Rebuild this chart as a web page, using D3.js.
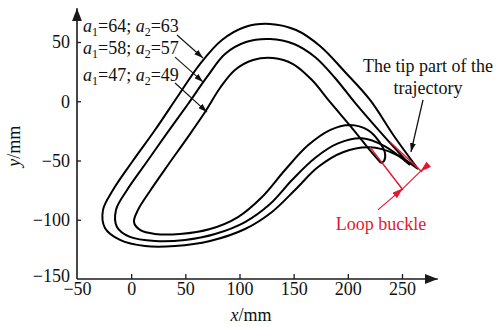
<!DOCTYPE html>
<html><head><meta charset="utf-8">
<script src="https://cdn.jsdelivr.net/npm/d3@7"></script>
<style>
body{margin:0;background:#fff}
svg{display:block}
text{font-family:"Liberation Serif","Times New Roman",serif;fill:#111}
</style>
</head><body>
<svg id="chart" width="497" height="326"></svg>
<script>
// ---------- data ----------
const xTickValues = [-50, 0, 50, 100, 150, 200, 250];
const yTickValues = [-150, -100, -50, 0, 50];
const seriesNames = [["64", "63"], ["58", "57"], ["47", "49"]];

// a1=64; a2=63 (outer trajectory)
const traj64X = [264.8, 242.6, 220.5, 197.4, 174.3, 152.2, 128.2, 105.1, 83.8, 63.5, 43.2, 22.0, 0.8, -16.8, -26.0, -24.2, -10.3, 12.8, 40.5, 72.8, 105.1, 130.0, 151.2, 172.5, 195.5, 220.5, 243.5, 264.8];
const traj64Y = [-57.2, -29.3, 1.1, 24.7, 46.6, 60.1, 65.2, 62.7, 51.7, 31.4, 4.4, -24.3, -51.3, -74.9, -91.7, -106.9, -117.0, -122.2, -122.2, -117.9, -107.8, -93.4, -74.9, -55.5, -43.0, -38.9, -44.5, -57.2];

// a1=58; a2=57 (middle trajectory)
const traj58X = [257.4, 231.5, 207.5, 188.2, 169.7, 150.3, 128.2, 106.0, 86.6, 70.0, 52.5, 33.1, 13.7, -3.8, -14.0, -13.1, -1.1, 22.0, 49.7, 77.4, 105.1, 128.2, 148.5, 169.7, 190.9, 213.1, 234.3, 257.4];
const traj58Y = [-53.8, -27.6, -2.3, 19.6, 37.3, 48.3, 52.5, 50.0, 39.9, 20.5, -2.3, -26.9, -52.1, -74.9, -91.7, -106.1, -114.5, -117.9, -117.0, -112.0, -101.9, -86.7, -66.5, -47.9, -35.6, -31.3, -38.1, -53.8];

// a1=47; a2=49 (inner trajectory, with loop buckle)
const traj47X = [230.6, 220.5, 203.9, 183.5, 166.9, 149.4, 130.9, 112.5, 95.8, 82.0, 68.2, 51.5, 34.0, 17.4, 6.3, 2.6, 8.2, 22.0, 45.1, 72.8, 98.6, 120.8, 142.0, 163.2, 183.5, 202.0, 218.6, 228.8, 234.3, 233.4, 230.6];
const traj47Y = [-52.1, -41.4, -22.6, -0.6, 17.9, 31.4, 36.5, 34.8, 26.4, 11.2, -9.1, -31.3, -53.8, -75.7, -91.7, -101.9, -108.6, -112.0, -112.0, -107.8, -97.7, -80.8, -58.0, -37.2, -24.3, -20.0, -24.3, -33.8, -43.7, -50.4, -52.1];

// ---------- layout ----------
const svg = d3.select("#chart");
const x = d3.scaleLinear().domain([-50, 250]).range([77, 402]);
const y = d3.scaleLinear().domain([-150, 50]).range([279, 42]);
const FS = 18;
const RED = "#e3172f";
const AX = "#1a1a1a";

const defs = svg.append("defs");
function marker(id, color, w, l) {
  defs.append("marker").attr("id", id).attr("viewBox", `0 ${-w} ${l} ${2*w}`)
    .attr("refX", l).attr("refY", 0).attr("markerWidth", l).attr("markerHeight", 2*w)
    .attr("markerUnits", "userSpaceOnUse").attr("orient", "auto")
    .append("path").attr("d", `M0,${-w}L${l},0L0,${w}Z`).attr("fill", color);
}
marker("axArrow", AX, 5, 13);
marker("blkArrow", "#111", 3, 9);
marker("redArrow", RED, 3.5, 11);

// axes
const yAxis = d3.axisLeft(y).tickValues(yTickValues).tickSizeInner(-4).tickSizeOuter(0).tickPadding(7);
const xAxis = d3.axisBottom(x).tickValues(xTickValues).tickSizeInner(-5).tickSizeOuter(0).tickPadding(3);
const gy = svg.append("g").attr("transform", `translate(${x(-50)},0)`).call(yAxis);
const gx = svg.append("g").attr("transform", `translate(0,${y(-150)})`).call(xAxis);
[gx, gy].forEach(g => {
  g.select(".domain").remove();
  g.selectAll(".tick line").attr("stroke", AX).attr("stroke-width", 1.3);
  g.selectAll(".tick text").attr("font-size", FS).attr("font-family", "Liberation Serif").attr("fill", "#111");
});
gy.selectAll(".tick").filter(d => d === -150).select("line").remove();
gy.selectAll(".tick").filter(d => d === -150).select("text").attr("dy", "0.15em");
gx.selectAll(".tick").filter(d => d === -50).select("line").remove();

svg.append("line").attr("x1", x(-50)).attr("x2", x(-50)).attr("y1", y(-150)).attr("y2", y(78.5))
  .attr("stroke", AX).attr("stroke-width", 1.6).attr("marker-end", "url(#axArrow)");
svg.append("line").attr("x1", x(-50)).attr("x2", x(283)).attr("y1", y(-150)).attr("y2", y(-150))
  .attr("stroke", AX).attr("stroke-width", 1.6).attr("marker-end", "url(#axArrow)");

// axis titles
const xt = svg.append("text").attr("x", 251).attr("y", 321).attr("text-anchor", "middle").attr("font-size", FS);
xt.append("tspan").attr("font-style", "italic").text("x");
xt.append("tspan").text("/mm");
const yt = svg.append("text").attr("transform", `translate(20,${y(-38)}) rotate(-90)`).attr("text-anchor", "middle").attr("font-size", FS);
yt.append("tspan").attr("font-style", "italic").text("y");
yt.append("tspan").text("/mm");

// trajectories
const line = d3.line().x(d => x(d[0])).y(d => y(d[1])).curve(d3.curveCatmullRom.alpha(0.5));
[[traj64X, traj64Y], [traj58X, traj58Y], [traj47X, traj47Y]].forEach(([xs, ys]) => {
  svg.append("path").datum(xs.map((v, i) => [v, ys[i]])).attr("d", line)
    .attr("fill", "none").attr("stroke", "#000").attr("stroke-width", 2)
    .attr("stroke-linejoin", "round");
});

// series labels with arrows
const labelBaselines = [32, 54, 81];
const arrowFrom = [[42.3, 55.9], [40.5, 37.3], [40.5, 15.4]];
const arrowTo = [[66.3, 36.5], [66.3, 16.3], [70.0, -9.1]];
seriesNames.forEach((s, i) => {
  const t = svg.append("text").attr("x", 83).attr("y", labelBaselines[i]).attr("font-size", FS);
  t.append("tspan").attr("font-style", "italic").text("a");
  t.append("tspan").attr("font-size", 12).attr("dy", 4).text("1");
  t.append("tspan").attr("dy", -4).text("=" + s[0] + "; ");
  t.append("tspan").attr("font-style", "italic").text("a");
  t.append("tspan").attr("font-size", 12).attr("dy", 4).text("2");
  t.append("tspan").attr("dy", -4).text("=" + s[1]);
  svg.append("line").attr("x1", x(arrowFrom[i][0])).attr("y1", y(arrowFrom[i][1]))
    .attr("x2", x(arrowTo[i][0])).attr("y2", y(arrowTo[i][1]))
    .attr("stroke", "#111").attr("stroke-width", 1.1).attr("marker-end", "url(#blkArrow)");
});

// tip annotation
svg.append("text").attr("x", 428).attr("y", 72).attr("text-anchor", "middle").attr("font-size", FS).text("The tip part of the");
svg.append("text").attr("x", 428).attr("y", 94).attr("text-anchor", "middle").attr("font-size", FS).text("trajectory");
svg.append("line").attr("x1", x(269.4)).attr("y1", y(1.1)).attr("x2", x(258.3)).attr("y2", y(-42.8))
  .attr("stroke", "#111").attr("stroke-width", 1.3).attr("marker-end", "url(#blkArrow)");

// loop buckle dimension (red)
svg.append("line").attr("x1", x(220.5)).attr("y1", y(-38.7)).attr("x2", x(250.9)).attr("y2", y(-74.9))
  .attr("stroke", RED).attr("stroke-width", 1.5);
svg.append("line").attr("x1", x(238.9)).attr("y1", y(-34.4)).attr("x2", x(268.5)).attr("y2", y(-59.7))
  .attr("stroke", RED).attr("stroke-width", 1.5);
svg.append("line").attr("x1", x(227.8)).attr("y1", y(-91.7)).attr("x2", x(250.9)).attr("y2", y(-73.5))
  .attr("stroke", RED).attr("stroke-width", 1.2).attr("marker-end", "url(#redArrow)");
svg.append("line").attr("x1", x(274.0)).attr("y1", y(-53.8)).attr("x2", x(267.0)).attr("y2", y(-59.2))
  .attr("stroke", RED).attr("stroke-width", 1.2).attr("marker-end", "url(#redArrow)");
svg.append("line").attr("x1", x(250.9)).attr("y1", y(-73.5)).attr("x2", x(267.0)).attr("y2", y(-59.2))
  .attr("stroke", RED).attr("stroke-width", 1.2);
svg.append("text").attr("x", 381).attr("y", 230).attr("text-anchor", "middle").attr("font-size", FS)
  .style("fill", RED).text("Loop buckle");
</script>
</body></html>
